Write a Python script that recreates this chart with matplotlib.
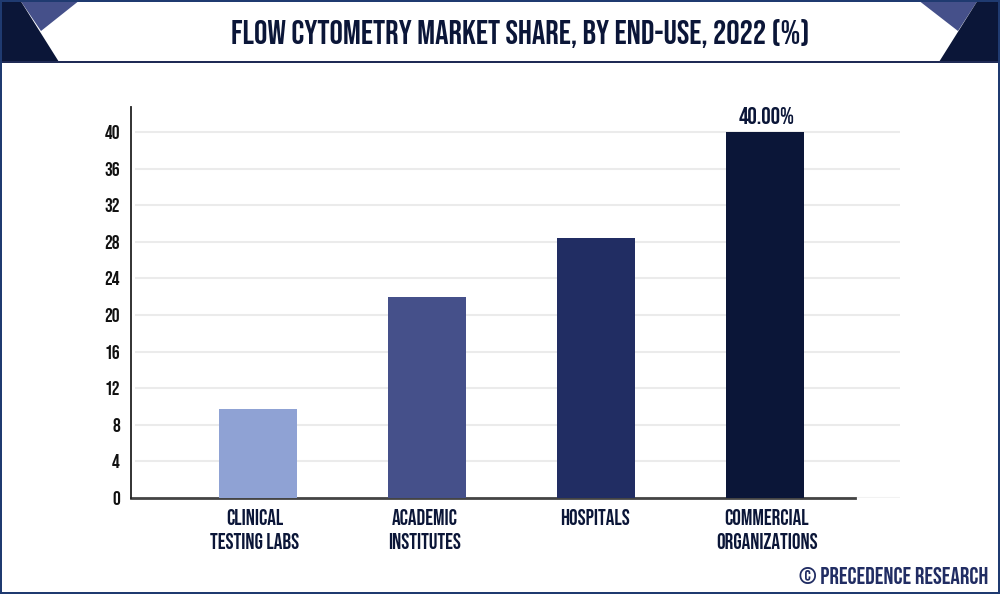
import matplotlib
matplotlib.use("Agg")
from matplotlib import pyplot as plt
from matplotlib.patches import Polygon, Rectangle
from matplotlib.transforms import ScaledTranslation

#data
categories = ["CLINICAL\nTESTING LABS", "ACADEMIC\nINSTITUTES", "HOSPITALS", "COMMERCIAL\nORGANIZATIONS"]
values = [9.7, 22.0, 28.4, 40.0]
bar_colors = ["#8fa2d4", "#45508a", "#212d63", "#0b1638"]
y_ticks = [0, 4, 8, 12, 16, 20, 24, 28, 32, 36, 40]
title = "FLOW CYTOMETRY MARKET SHARE, BY END-USE, 2022 (%)"
bar_label = "40.00%"
credit = "© PRECEDENCE RESEARCH"

W, H = 1000, 594
navy = "#0b1638"
plt.rcParams["font.family"] = ["Bebas Neue", "Saira ExtraCondensed", "DejaVu Sans"]

fig = plt.figure(figsize=(W / 100, H / 100), dpi=100, facecolor="white")

#plot area, pixel positions from the reference
left, right, top, bottom = 131, 900, 107, 498
ax = fig.add_axes([left / W, 1 - bottom / H, (right - left) / W, (bottom - top) / H])
ax.set_xlim(-0.751, 3.80)
ax.set_ylim(0, (bottom - top) / 9.15)
ax.patch.set_alpha(0)

for t in y_ticks[1:]:
    ax.plot([-0.72, 3.80], [t, t], color="#ebebeb", lw=1.5, zorder=1)
ax.plot([2.0, 3.80], [0, 0], color="#f2f2f2", lw=1.5, zorder=1)

ax.bar(range(len(values)), values, width=0.46, color=bar_colors, zorder=3)
ax.annotate(bar_label, (3, values[3]), xytext=(1.5, 5.5), textcoords="offset points", ha="center", va="bottom",
            fontsize=17, color=navy, zorder=4)

for s in ["top", "right"]:
    ax.spines[s].set_visible(False)
ax.spines["left"].set_color("#222222")
ax.spines["left"].set_linewidth(1.3)
ax.spines["bottom"].set_color("#444444")
ax.spines["bottom"].set_linewidth(2)
ax.spines["bottom"].set_bounds(-0.751, 3.533)
ax.spines["bottom"].set_zorder(2)

ax.set_yticks(y_ticks)
ax.set_yticklabels([str(t) for t in y_ticks], fontsize=14, color="#111111")
ax.tick_params(axis="y", length=0, pad=8)
ax.set_xticks(range(len(categories)))
ax.set_xticklabels(categories, fontsize=15.5, color=navy, linespacing=1.5)
ax.tick_params(axis="x", length=0, pad=8)

#labels are not quite centred under the bars in the original
for lab, dx in zip(ax.get_xticklabels(), [-3.5, -2, -1, 2]):
    lab.set_transform(lab.get_transform() + ScaledTranslation(dx / 100, 0, fig.dpi_scale_trans))

#frame and header, drawn in pixel coordinates
bg = fig.add_axes([0, 0, 1, 1], zorder=5)
bg.set_xlim(0, W)
bg.set_ylim(H, 0)
bg.axis("off")
bg.patch.set_alpha(0)
bg.add_patch(Polygon([(20, 0), (80, 0), (41, 31)], color="#45508a", lw=0))
bg.add_patch(Polygon([(0, 0), (20, 0), (59, 62), (0, 62)], color=navy, lw=0))
bg.add_patch(Polygon([(918, 0), (978, 0), (958, 31)], color="#45508a", lw=0))
bg.add_patch(Polygon([(978, 0), (1000, 0), (1000, 62), (939, 62)], color=navy, lw=0))
bg.add_patch(Rectangle((0, 61), W, 1.5, color="#1f2a55", lw=0))
bg.add_patch(Rectangle((0, 0), W, 1.5, color="#1f3a70", lw=0))
bg.add_patch(Rectangle((0, 592), W, 2, color="#1f3a70", lw=0))
bg.add_patch(Rectangle((0, 0), 1.5, H, color="#1f3a70", lw=0))
bg.add_patch(Rectangle((998, 0), 2, H, color="#1f3a70", lw=0))

bg.text(520, 33, title, ha="center", va="center", fontsize=24, color=navy)
bg.text(988, 576, credit, ha="right", va="center", fontsize=17, color="#212d63")

fig.savefig("out.png", dpi=100)
